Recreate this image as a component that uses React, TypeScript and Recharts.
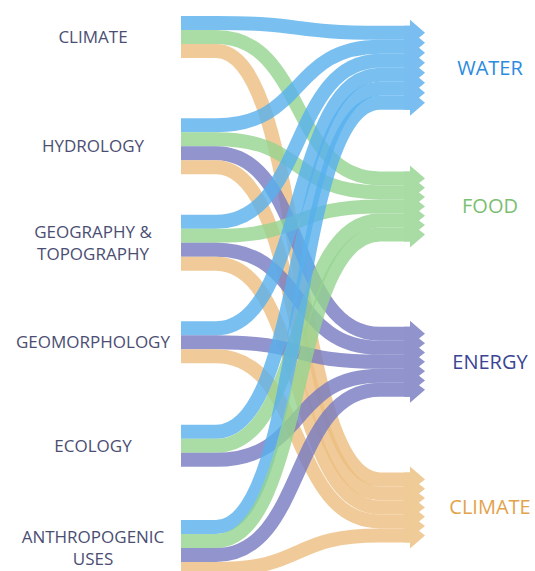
import { Sankey } from "recharts"

// left-hand drivers and right-hand sectors
const SOURCES = [
  "CLIMATE",
  "HYDROLOGY",
  "GEOGRAPHY &\nTOPOGRAPHY",
  "GEOMORPHOLOGY",
  "ECOLOGY",
  "ANTHROPOGENIC\nUSES",
]
const TARGETS = ["WATER", "FOOD", "ENERGY", "CLIMATE"]

// one band per driver -> sector (columns follow TARGETS)
const FLOWS = [
  [1, 1, 0, 1],
  [1, 1, 1, 1],
  [1, 1, 1, 1],
  [1, 0, 1, 1],
  [1, 1, 1, 0],
  [1, 1, 1, 1],
]

// empty flow between groups, in band units (left: between drivers; right: above/between/below sectors)
const GAP_LEFT = [4.3, 2.9, 3.6, 4.4, 3.8]
const GAP_RIGHT = [0.7, 4.4, 6.1, 5.4, 2.4]

const LINK_COLORS = ["#58b0ee", "#95d38e", "#7679c1", "#ecbe80"]
const ARROW_COLORS = ["#7abdf0", "#a9dba5", "#9093cc", "#efcb97"]
const LABEL_COLORS = ["#2a8bdf", "#7cbf71", "#3b4494", "#e3a34a"]
const TEXT = "#4b4e73"
const FONT = "'Open Sans', 'Noto Sans', sans-serif"
const NODE_W = 20
const FLAT_L = 15
const FLAT_R = 25

type NodeItem = { name: string; side: "left" | "right" | "gap"; idx: number }

function buildData() {
  const nodes: NodeItem[] = []
  const links: any[] = []
  const leftIds: number[] = []
  const leftGapIds: number[] = []
  SOURCES.forEach((s, i) => {
    leftIds.push(nodes.length)
    nodes.push({ name: s, side: "left", idx: i })
    if (i < GAP_LEFT.length) {
      leftGapIds.push(nodes.length)
      nodes.push({ name: "", side: "gap", idx: i })
    }
  })
  const rightIds: number[] = []
  const rightGapIds: number[] = []
  GAP_RIGHT.forEach((_, i) => {
    rightGapIds.push(nodes.length)
    nodes.push({ name: "", side: "gap", idx: i })
    if (i < TARGETS.length) {
      rightIds.push(nodes.length)
      nodes.push({ name: TARGETS[i], side: "right", idx: i })
    }
  })
  FLOWS.forEach((row, i) =>
    row.forEach((v, j) => {
      if (v > 0) links.push({ source: leftIds[i], target: rightIds[j], value: v })
    })
  )
  // invisible filler flows so both columns keep their spacing
  const a = [...GAP_LEFT]
  const b = [...GAP_RIGHT]
  let i = 0
  let j = 0
  while (i < a.length && j < b.length) {
    const m = Math.min(a[i], b[j])
    if (m > 1e-6) links.push({ source: leftGapIds[i], target: rightGapIds[j], value: m, hidden: true })
    a[i] -= m
    b[j] -= m
    if (a[i] <= 1e-6) i++
    else j++
  }
  return { nodes, links }
}

const DATA = buildData()

function FlowLink(props: any) {
  const { sourceX, targetX, sourceY, targetY, linkWidth, payload } = props
  if (payload.hidden) return <g />
  const c = LINK_COLORS[payload.target.idx]
  const x0 = sourceX + FLAT_L
  const x1 = targetX - FLAT_R
  const c0 = x0 + (x1 - x0) * 0.55
  const c1 = x0 + (x1 - x0) * 0.45
  const d = `M${sourceX - NODE_W},${sourceY} L${x0},${sourceY} C${c0},${sourceY} ${c1},${targetY} ${x1},${targetY} L${targetX + 6},${targetY}`
  return <path d={d} fill="none" stroke={c} strokeOpacity={0.8} strokeWidth={linkWidth} />
}

function FlowNode(props: any) {
  const { x, y, width, height, payload } = props
  if (payload.side === "gap") return <g />
  if (payload.side === "left") {
    const lines: string[] = payload.name.split("\n")
    const cx = x - 88
    return (
      <text x={cx} y={y + height / 2} textAnchor="middle" fontFamily={FONT} fontSize={17} fill={TEXT}>
        {lines.map((l, k) => (
          <tspan key={k} x={cx} dy={k === 0 ? `${0.35 - (lines.length - 1) * 0.65}em` : "1.3em"}>
            {l}
          </tspan>
        ))}
      </text>
    )
  }
  const bx = x + 5
  const tx = x + width
  const ix = x + width - 6
  const pts: number[][] = [[x - 1, y], [bx, y], [bx, y - 6], [tx, y + 7]]
  const span = height - 14
  const n = Math.max(1, Math.round(span / 10))
  const step = span / n
  for (let k = 0; k < n; k++) {
    pts.push([ix, y + 7 + step * (k + 0.5)], [tx, y + 7 + step * (k + 1)])
  }
  pts.push([bx, y + height + 6], [bx, y + height], [x - 1, y + height])
  return (
    <g>
      <polygon points={pts.map((p) => p.join(",")).join(" ")} fill={ARROW_COLORS[payload.idx]} />
      <text
        x={x + width + 65}
        y={y + height / 2}
        dy="0.35em"
        textAnchor="middle"
        fontFamily={FONT}
        fontSize={20}
        fill={LABEL_COLORS[payload.idx]}
      >
        {payload.name}
      </text>
    </g>
  )
}

export default function App() {
  return (
    <div style={{ position: "absolute", left: 0, top: 0, width: 535, height: 571, overflow: "hidden", background: "#fff" }}>
      <Sankey
        width={535}
        height={576}
        data={DATA}
        margin={{ top: 16, right: 110, bottom: 0, left: 181 }}
        nodeWidth={NODE_W}
        nodePadding={0}
        iterations={0}
        node={(p: any) => <FlowNode {...p} />}
        link={(p: any) => <FlowLink {...p} />}
      />
    </div>
  )
}
